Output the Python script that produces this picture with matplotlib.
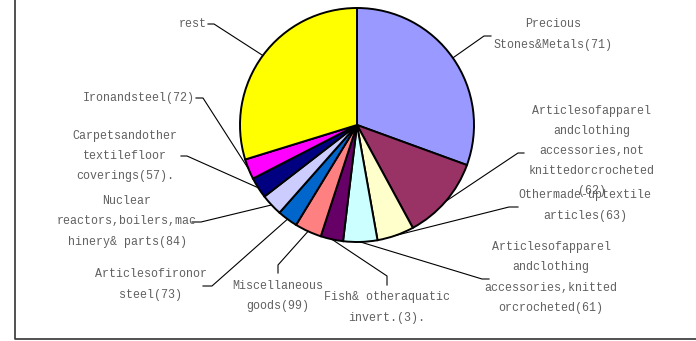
import numpy as np
import matplotlib
matplotlib.use('Agg')
import matplotlib.pyplot as plt
from matplotlib.lines import Line2D

W, H = 696, 341

# data (share of exports, %)
labels = [
	'Precious\nStones&Metals(71)',
	'Articlesofapparel\nandclothing\naccessories,not\nknittedorcrocheted\n(62)',
	'Othermade-uptextile\narticles(63)',
	'Articlesofapparel\nandclothing\naccessories,knitted\norcrocheted(61)',
	'Fish& otheraquatic\ninvert.(3).',
	'Miscellaneous\ngoods(99)',
	'Articlesofironor\nsteel(73)',
	'Nuclear\nreactors,boilers,mac\nhinery& parts(84)',
	'Carpetsandother\ntextilefloor\ncoverings(57).',
	'Ironandsteel(72)',
	'rest',
]
values = [30.5, 11.5, 5.1, 4.7, 3.1, 3.7, 2.8, 3.0, 2.9, 2.8, 29.7]
colors = ['#9999FF', '#993366', '#FFFFCC', '#CCFFFF', '#660066', '#FF8080',
	'#0066CC', '#CCCCFF', '#000080', '#FF00FF', '#FFFF00']

# label layout in pixel coords (y from top): text x, text y, ha, leader elbow points
layout = [
	(553, 34.5, 'center', [(491, 36), (484, 36)]),
	(592, 151, 'center', [(524, 153), (518, 153)]),
	(585, 205.5, 'center', [(518, 207), (509, 207)]),
	(551, 277.5, 'center', [(489, 279), (482, 279)]),
	(387, 307.5, 'center', [(387, 285), (387, 276)]),
	(278, 296, 'center', [(278, 273), (278, 265)]),
	(151, 284.5, 'center', [(203, 286), (212, 286)]),
	(127, 221.5, 'center', [(192, 222), (201, 222)]),
	(125, 156, 'center', [(181, 156), (187, 156)]),
	(195, 98, 'right', [(196, 98), (203, 98)]),
	(207, 24, 'right', [(208, 24), (214, 24)]),
]

cx, cy, r = 357, H - 125, 117

fig = plt.figure(figsize=(W / 100, H / 100), dpi=100)
ax = fig.add_axes([0, 0, 1, 1])
wedges, _ = ax.pie(values, colors=colors, startangle=90, counterclock=False,
	center=(cx, cy), radius=r, frame=True,
	wedgeprops=dict(edgecolor='black', linewidth=1.4))
ax.set_xlim(0, W)
ax.set_ylim(0, H)
ax.set_axis_off()

for w, lab, (tx, ty, ha, pts) in zip(wedges, labels, layout):
	mid = np.deg2rad((w.theta1 + w.theta2) / 2)
	ax_pt = (cx + r * np.cos(mid), cy + r * np.sin(mid))
	xs = [p[0] for p in pts] + [ax_pt[0]]
	ys = [H - p[1] for p in pts] + [ax_pt[1]]
	ax.plot(xs, ys, color='black', linewidth=0.8)
	ax.text(tx, H - ty, lab, ha=ha, va='center', fontsize=8.4,
		family='Liberation Mono', color='#606060', linespacing=1.9,
		multialignment='center')

# border of the chart area
fig.add_artist(Line2D([15 / W, 15 / W, 1], [1, 1 - 339 / H, 1 - 339 / H],
	color='#333333', linewidth=1.2, transform=fig.transFigure))

fig.savefig('out.png', dpi=100)
